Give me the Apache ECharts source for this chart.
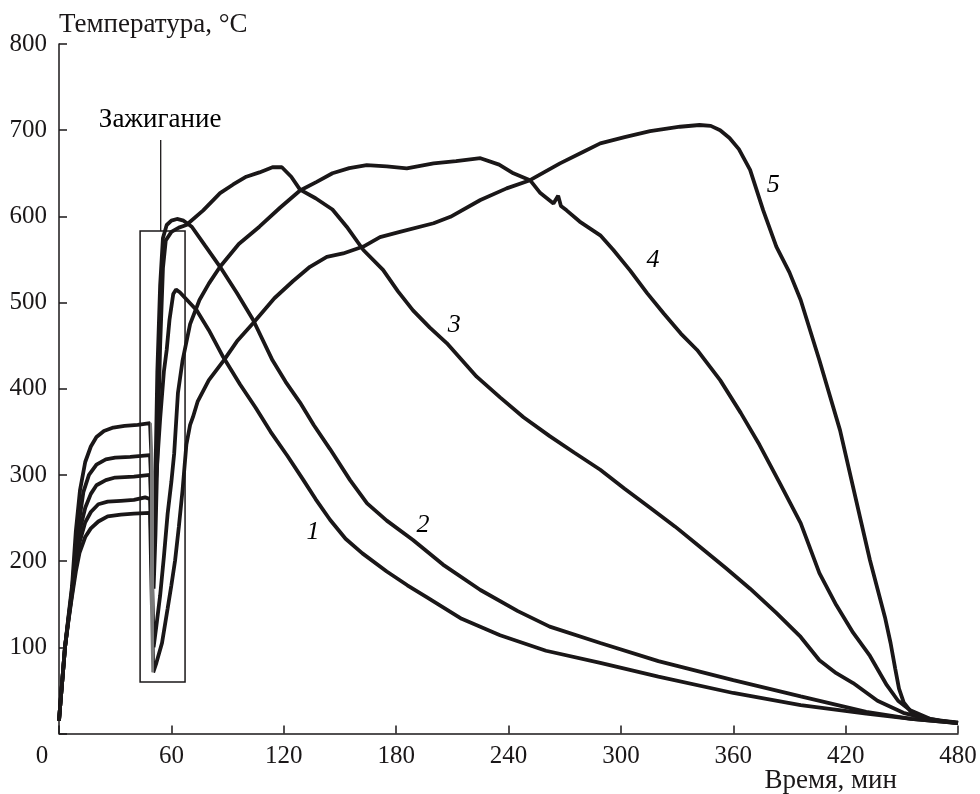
<!DOCTYPE html>
<html>
<head>
<meta charset="utf-8">
<script src="https://cdn.jsdelivr.net/npm/echarts@6/dist/echarts.min.js"></script>
<style>html,body{margin:0;padding:0;background:#fff}#c{width:980px;height:794px}</style>
</head>
<body>
<div id="c"></div>
<script>
// ---- data (time, min ; temperature, °C) ----
const xTicks = [0, 60, 120, 180, 240, 300, 360, 420, 480];
const yTicks = [100, 200, 300, 400, 500, 600, 700, 800];
const xAxisTitle = 'Время, мин';
const yAxisTitle = 'Температура, °C';

const curve1 = [[0,15],[1,42],[2,68],[3.2,100],[5,135],[7,172],[9,235],[11.2,282],[14,315],[17,333],[20,344],[24,351],[29,355],[35,357],[42,358],[48.6,360],
[49.2,330],[50.5,262],[52,300],[54,365],[56,420],[57.5,445],[59,480],[61,510],[62.5,515],[64.5,512],[67.5,505],[73.5,491],[80,468],[87.6,437],[96.7,405],[105,378],[113,350],[122,322],[130.5,294],[137,272],[144.7,248],[153,226],[162,209],[175,188],[186,172],[196.5,158],[215,133],[235.5,114],[260,96],[289,82],[320,66],[360,47],[396,33],[431,23],[455,17],[480,12]];

const curve2 = [[0,15],[1,42],[2,68],[3.2,100],[5,133],[7,168],[9,215],[11,250],[13,280],[16,300],[20,312],[25,318],[30,320],[38,321],[44,322],[48.6,323],
[49.5,280],[50.5,205],[51.5,300],[52.5,420],[54,520],[55.5,575],[57.5,590],[60,595],[63,597],[66.5,595],[70.9,588],[78,566],[86,541.5],[95,511],[103.6,480],[114,433],[121,408],[128.7,384],[136,358],[144.7,330],[155.4,294],[164.5,267],[175,247],[189,224.5],[205,196],[225,166.5],[245,142],[262,124],[289,105],[320,84],[360,62],[396,43],[431,25],[455,17],[480,12]];

const curve3 = [[0,15],[1,42],[2,68],[3.2,100],[5,132],[7,165],[9,205],[11,235],[14,262],[17,278],[20,288],[25,294],[30,297],[40,298],[48.6,300],
[49.5,250],[50.5,168],[51.5,230],[52.5,320],[54,450],[55.5,540],[57,572],[60,582],[64,587],[68,590],[77,607],[86,627],[93,637],[100,646],[107,651],[114,657],[119,657],[124,646],[128.7,631],[137,621],[146,608],[153.6,588],[162.5,561],[173,538],[181,513],[189,491],[198,471],[207,453],[223,414],[235.5,390],[248,367],[262,345],[275,326],[289,306],[302,284],[315.6,262],[329,240],[342,217],[356,192],[369,168],[383,140],[396,112],[406,85],[415,70],[424,58.5],[437,38],[450.8,24],[465,16],[480,12]];

const curve4 = [[0,15],[1,42],[2,68],[3.2,100],[5,131],[7,163],[9,195],[11,222],[14,245],[17,257],[21,266],[26,269],[33,270],[40,271],[46,274],[48.6,272],
[49.5,200],[50.5,100],[52,125],[54,160],[56,205],[58,255],[60,292],[61.5,325],[63.5,395],[66,433],[70,475],[75,503],[80,522],[86,541.5],[96,568],[107,588],[118,610],[128.7,630],[137.6,640],[146,650],[155,656],[164.3,659.5],[175,658],[185.7,655.7],[200,661.5],[212,664],[225,667.5],[235,660],[242.6,650],[251.5,642],[257,627],[264,615],[266.5,624],[268,612],[271,607],[278,594],[289,578],[296,561],[305,537],[314,511],[323,487],[332,464],[340.7,445],[353,410],[364,372],[374,335],[385,290],[396,244],[406,186],[415,149],[424,117],[433,90],[442,56],[448,38],[454.5,27],[465,17],[480,12]];

const curve5 = [[0,15],[1,42],[2,68],[3.2,100],[5,130],[7,160],[9,188],[11,210],[14,228],[17,238],[21,246],[26,252],[33,254],[40,255],[48.6,256],
[49.3,180],[50.3,71],[52,82],[55,105],[58,145],[60,172],[62,201],[64,240],[66,283],[68,335],[70,358],[71.5,367],[74,385],[80,410],[88,433],[95,455],[103.6,476],[115,505],[125,525],[134,541.5],[143,553],[151.7,557],[162.5,565],[171.4,576],[182,582],[200,592],[209,599.5],[225,619],[239,632.5],[251.5,642],[267.5,661.5],[280,675],[289,684.7],[302,692],[315.6,699],[331.6,704],[342,706],[348,705],[353,700],[358,691],[363,678],[369,654],[376,607],[383,565],[390,535],[396,503],[406,433],[417,352],[428,248],[433,201],[437,168],[441,135],[444,105],[446.5,75],[448.5,52],[451,36],[455,25],[460,19],[470,15],[480,13]];

const curveNames = ['1', '2', '3', '4', '5'];
const curveLabelX = [135.6, 194.4, 211, 317.2, 381.3];
const curveLabelY = [234, 242, 474, 549, 636];

const ignitionText = 'Зажигание';
const ignitionTextPos = [54.0, 712];
const ignitionLeader = [[54.3, 688.5], [54.3, 583]];
const ignitionBox = [[43.3, 583], [67.3, 59.7]];
const ignitionDrop = [48.7, 50.6];   // time span of the noisy (grey) temperature drop

// ---- chart ----
const INK = '#1a1718';
const NOISE = '#7a7a7a';
const FONT = 'Liberation Serif';
const chart = echarts.init(document.getElementById('c'), null, {renderer: 'canvas'});

const curves = [curve1, curve2, curve3, curve4, curve5];
const lineSeries = curves.map((c, i) => ({
  type: 'line', name: curveNames[i], data: c, showSymbol: false, symbol: 'none',
  lineStyle: {width: 3.8}, z: 3, silent: true,
  markArea: i === 0 ? {
    silent: true,
    itemStyle: {color: 'rgba(0,0,0,0)', borderColor: INK, borderWidth: 1.5},
    data: [[{coord: ignitionBox[0]}, {coord: ignitionBox[1]}]]
  } : undefined
}));

chart.setOption({
  backgroundColor: '#fff',
  animation: false,
  visualMap: {
    type: 'piecewise', show: false, dimension: 0, seriesIndex: [0, 1, 2, 3, 4],
    pieces: [
      {lt: ignitionDrop[0], color: INK},
      {gte: ignitionDrop[0], lt: ignitionDrop[1], color: NOISE},
      {gte: ignitionDrop[1], color: INK}
    ]
  },
  grid: {left: 59, right: 22, top: 44, bottom: 60.5, outerBoundsMode: 'none'},
  xAxis: {
    type: 'value', min: 0, max: 480, interval: 60,
    name: xAxisTitle, nameLocation: 'end', nameGap: -61, nameMoveOverlap: false,
    nameTextStyle: {fontFamily: FONT, fontSize: 27, color: INK, align: 'right', verticalAlign: 'top', padding: [34, 0, 0, 0]},
    axisLine: {lineStyle: {color: INK, width: 1.5}},
    axisTick: {inside: true, length: 8, lineStyle: {color: INK, width: 1.5}},
    splitLine: {show: false},
    axisLabel: {
      margin: 10, fontFamily: FONT, fontSize: 25, color: INK,
      formatter: v => (xTicks.indexOf(v) < 0 ? '' : (v === 0 ? '{z|0}' : String(v))),
      rich: {z: {fontFamily: FONT, fontSize: 25, color: INK, padding: [0, 34, 0, 0]}}
    }
  },
  yAxis: {
    type: 'value', min: 0, max: 800, interval: 100,
    name: yAxisTitle, nameLocation: 'end', nameGap: 6,
    nameTextStyle: {fontFamily: FONT, fontSize: 27, color: INK, align: 'left', verticalAlign: 'bottom'},
    axisLine: {show: true, lineStyle: {color: INK, width: 1.5}},
    axisTick: {show: true, inside: true, length: 8, lineStyle: {color: INK, width: 1.5}},
    splitLine: {show: false},
    axisLabel: {
      margin: 12, fontFamily: FONT, fontSize: 25, color: INK,
      formatter: v => (yTicks.indexOf(v) < 0 ? '' : String(v))
    }
  },
  series: lineSeries.concat([
    {
      type: 'line', data: ignitionLeader, showSymbol: false, symbol: 'none', silent: true,
      lineStyle: {color: INK, width: 1.3}, z: 2
    },
    {
      type: 'scatter', symbolSize: 1, silent: true, z: 5,
      itemStyle: {color: 'rgba(0,0,0,0)', opacity: 1},
      data: curveNames.map((n, i) => ({value: [curveLabelX[i], curveLabelY[i]], name: n})),
      label: {show: true, position: 'inside', formatter: p => p.name,
        fontFamily: FONT, fontStyle: 'italic', fontSize: 26, color: '#000'}
    },
    {
      type: 'scatter', symbolSize: 1, silent: true, z: 5,
      itemStyle: {color: 'rgba(0,0,0,0)', opacity: 1},
      data: [{value: ignitionTextPos, name: ignitionText}],
      label: {show: true, position: 'inside', formatter: p => p.name,
        fontFamily: FONT, fontSize: 27, color: '#000'}
    }
  ])
});
</script>
</body>
</html>
